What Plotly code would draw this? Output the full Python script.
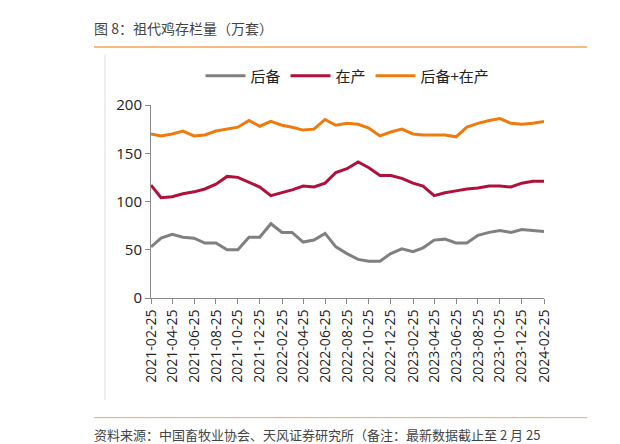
import plotly.graph_objects as go
import pandas as pd

dates = pd.date_range("2021-02-01", periods=37, freq="MS") + pd.Timedelta(days=24)
dates = [d.strftime("%Y-%m-%d") for d in dates]
reserve = [53,62,66,63,62,57,57,50,50,63,63,77,68,68,58,60,67,53,46,40,38,38,46,51,48,52,60,61,57,57,65,68,70,68,71,70,69]
producing = [117,104,105,108,110,113,118,126,125,120,115,106,109,112,116,115,119,130,134,141,135,127,127,124,119,116,106,109,111,113,114,116,116,115,119,121,121]
total = [170,168,170,173,168,169,173,175,177,184,178,183,179,177,174,175,185,179,181,180,176,168,172,175,170,169,169,169,167,177,181,184,186,181,180,181,183]
tick_labels = dates[::2]

fig = go.Figure()
for name, y, c in [("后备", reserve, "#808080"), ("在产", producing, "#B0103A"), ("后备+在产", total, "#EE7A10")]:
    fig.add_trace(go.Scatter(x=dates, y=y, name=name, mode="lines", line=dict(color=c, width=3)))

font = "Noto Sans CJK SC"
fig.update_layout(
    width=620, height=444, paper_bgcolor="white", plot_bgcolor="white",
    margin=dict(l=143, r=84, t=97, b=154),
    font=dict(family=font, color="#222", size=15),
    legend=dict(orientation="h", x=0.5, xanchor="center", y=1.15, yanchor="middle",
                font=dict(size=15), itemwidth=40),
    showlegend=True,
)
fig.update_xaxes(type="date", range=[dates[0], dates[-1]], tickvals=tick_labels, ticktext=tick_labels,
                 tickangle=-90, showgrid=False, showline=True, linecolor="#888", ticks="outside",
                 ticklen=5, tickcolor="#888", tickfont=dict(size=14, family="Open Sans"))
fig.update_yaxes(range=[0, 200], dtick=50, showgrid=False, showline=True, linecolor="#888",
                 ticks="outside", ticklen=5, tickcolor="#888", zeroline=False,
                 tickfont=dict(size=15, family="Open Sans"))

fig.add_annotation(text="图 8：祖代鸡存栏量（万套）", xref="paper", yref="paper", x=-0.15, y=1.4,
                   xanchor="left", yanchor="middle", showarrow=False, font=dict(size=14, color="#444"))
fig.add_shape(type="line", xref="paper", yref="paper", x0=-0.145, x1=1.11, y0=1.3, y1=1.3,
              line=dict(color="#F5A35A", width=1.5))
fig.add_shape(type="line", xref="paper", yref="paper", x0=-0.117, x1=-0.117, y0=1.26, y1=-0.53,
              line=dict(color="#ddd", width=1))
fig.add_shape(type="line", xref="paper", yref="paper", x0=-0.145, x1=1.11, y0=-0.62, y1=-0.62,
              line=dict(color="#F5A35A", width=1))
fig.add_annotation(text="资料来源：中国畜牧业协会、天风证券研究所（备注：最新数据截止至 2 月 25", xref="paper", yref="paper",
                   x=-0.15, y=-0.705, xanchor="left", yanchor="middle", showarrow=False,
                   font=dict(size=13, color="#444"))
fig.write_html("out.html")
